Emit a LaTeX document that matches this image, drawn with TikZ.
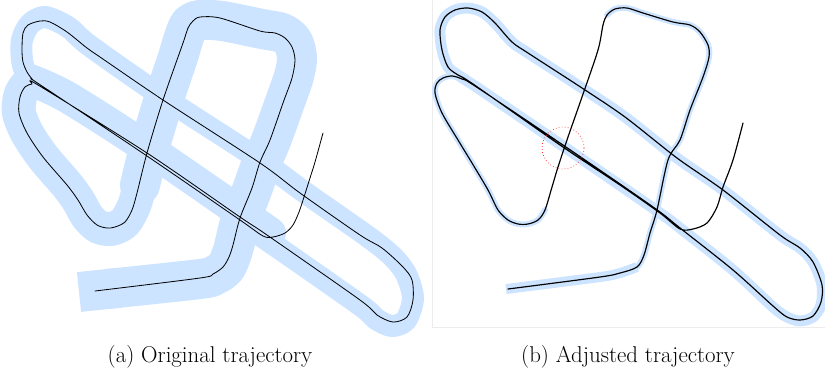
\documentclass[tikz,border=0pt]{standalone}
\usepackage{tikz}
\usetikzlibrary{positioning}
\definecolor{bandblue}{RGB}{204,228,255}
\definecolor{framegray}{RGB}{236,236,236}
\newcommand\Px{0.03cm}
\tikzset{
  band/.style={
    draw = bandblue,
    line width = #1*\Px,
    line join = round,
    line cap = round
  },
}
\tikzset{
  track/.style={
    draw = black,
    line width = 0.7pt,
    line join = round,
    line cap = round
  },
  trackB/.style={
    track,
    line width = 1.0pt
  },
  caption/.style={
    font = \fontsize{19.5}{23}\selectfont,
    inner sep = 0pt
  },
  marker/.style={
    draw = red!85,
    dotted,
    line width = 0.6pt,
    shape = circle,
    inner sep = 0pt,
    minimum size = 42*\Px
  }
}

\begin{document}
\begin{tikzpicture}[x=\Px, y=-\Px]
        \useasboundingbox (0,0) rectangle (825,380);

        % (a) original: wide map band
        \draw[band=40, line cap=butt] (79,292) -- (120,287.7);
        \draw[band=40] plot[smooth] coordinates {(110,288.7) (200,279) (215,275) (226,267) (233,250) (240,222) (252,190) (262,162) (272,138) (285,102) (294,76) (297,58) (293,42) (282,33) (262,29) (222,21) (200,20) (190,24) (184,37) (178,57) (163,102) (148,153) (140,185)};
        \draw[band=34] plot[smooth] coordinates {(140,185) (134,206) (125,222) (115,228) (107,229) (97,226) (87,216) (78,200) (67,185) (43,157) (27,133) (19,113) (20,97) (25,87) (32,82)};
        \draw[band=32] plot[smooth] coordinates {(30,80) (67,97) (147,148) (240,212) (270,233)};
        \draw[band=22] plot[smooth] coordinates {(26,75) (22,60) (22,40) (30,24) (45,17) (68,27) (90,46) (163,97) (260,160) (307,194) (367,236) (392,256) (406,274) (413,298) (406,320) (392,326) (376,319) (360,305) (267,240) (245,226)};

        % (a) original trajectory
        \draw[track] plot[smooth] coordinates {(95,291) (200,278) (213,274) (223,267) (229,257) (233,245) (240,218) (252,188) (260,162) (270,140) (283,103) (292,78) (295,60) (292,47) (285,38) (275,33) (260,31) (220,18) (200,17) (193,21) (188,28) (183,43) (163,100) (147,153) (137,193) (132,210) (125,222) (115,227) (107,228) (97,225) (87,215) (78,200) (67,185) (43,157) (27,133) (19,113) (20,97) (25,87) (32,84) (38,85) (147,153) (240,217) (267,235) (360,300) (377,315) (393,322) (407,317) (413,300) (412,280) (403,267) (382,248) (360,235) (300,193) (260,163) (163,100) (100,57) (87,48) (67,32) (50,22) (40,21) (28,25) (23,33) (22,50) (23,62) (27,72) (33,80) (39,84) (147,156) (240,220) (263,236) (273,237) (285,233) (293,225) (299,212) (304,197) (310,178) (315,162) (323,133)};

        % (b) adjusted: frame and thin band
        \draw[framegray, line width=0.6pt] (432,0) -- (432,327) -- (825,327);
        \draw[band=10, line cap=butt] plot[smooth] coordinates {(506,289) (600,277) (620,273) (637,267)};
        \draw[band=6] plot[smooth] coordinates {(620,273) (637,267) (644,255) (650,233) (657,210) (668,160) (680,140) (690,110) (703,77) (709,57) (708,45) (700,32) (690,25) (673,22) (643,13) (627,8) (615,9) (607,15)};
        \draw[band=6] plot[smooth] coordinates {(545,210) (538,220) (528,224) (518,224) (508,220) (498,210) (488,190) (472,163) (458,140) (442,113) (435,93) (437,83) (443,78) (452,76) (462,79) (475,86)};
        \draw[band=11] plot[smooth] coordinates {(475,86) (458,75) (448,67) (442,50) (440,30) (445,17) (455,10) (468,8) (482,12) (495,23) (512,42) (528,53) (582,88) (625,117) (677,158) (723,190) (780,235) (800,248) (813,262) (822,285) (821,305) (813,317) (800,321) (787,317) (773,307) (733,270) (680,228) (660,213) (560,144) (475,86)};

        % (b) adjusted trajectory
        \draw[trackB] plot[smooth] coordinates {(508,289) (600,277) (620,273) (637,267) (644,255) (650,233) (657,210) (668,160) (680,140) (690,110) (703,77) (709,57) (708,45) (700,32) (690,25) (673,22) (643,13) (627,8) (615,9) (607,15) (603,25) (598,50) (582,97) (568,137) (558,167) (552,187) (545,210) (538,220) (528,224) (518,224) (508,220) (498,210) (488,190) (472,163) (458,140) (442,113) (435,93) (437,83) (443,78) (452,76) (462,79) (475,86) (560,143) (620,184) (660,212) (680,228) (733,270) (773,306) (787,317) (800,320) (813,316) (821,302) (822,285) (813,262) (800,248) (780,235) (723,190) (677,158) (625,117) (582,88) (528,53) (512,42) (495,23) (482,12) (468,8) (455,10) (445,17) (440,30) (442,50) (448,67) (458,75) (473,84) (560,145) (620,185) (660,213) (680,229) (693,229) (707,223) (717,207) (723,187) (733,160) (743,123)};

        \node[marker] (spot) at (563,148) {};

        \node[caption] (capA) at (210,357) {(a) Original trajectory};
        \node[caption] (capB) at (628,357) {(b) Adjusted trajectory};
\end{tikzpicture}
\end{document}
